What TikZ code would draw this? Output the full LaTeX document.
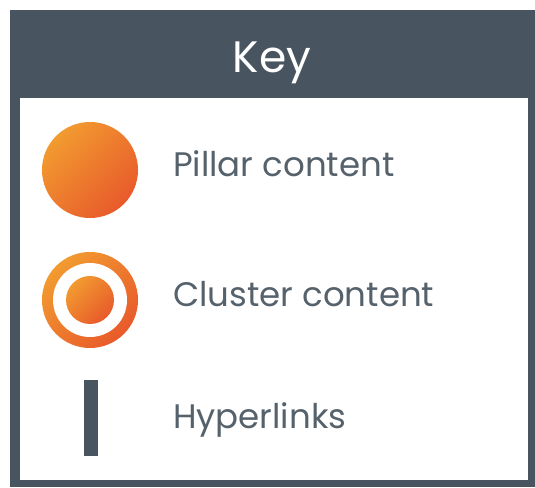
\documentclass[tikz,border=0pt]{standalone}
\usepackage{fontspec}
\setmainfont{Poppins}
\usetikzlibrary{positioning}
\definecolor{keygrey}{HTML}{48545F}
\definecolor{textgrey}{HTML}{55616B}
\definecolor{orangelight}{HTML}{F29B30}
\definecolor{orangedark}{HTML}{E85A2B}

\begin{document}
\begin{tikzpicture}[x=1pt,y=1pt]
    \tikzstyle{orangedot}=[circle, inner sep=0pt, top color=orangelight, bottom color=orangedark, shading angle=45]
    \tikzstyle{keylabel}=[anchor=base west, inner sep=0pt, text=textgrey, font=\fontsize{34}{40}\selectfont]
    \useasboundingbox (0,0) rectangle (535,487);
    % frame and header
    \fill[keygrey] (10,0) rectangle (535,477);
    \fill[white] (20,7) rectangle (528,389);
    \node[anchor=base, inner sep=0pt, text=white, font=\fontsize{44}{50}\selectfont] (key) at (272,414) {Key};
    % pillar
    \node[orangedot, minimum size=96pt] (pillar) at (90,317) {};
    \node[keylabel] (pillartext) at (173,310) {Pillar content};
    % cluster
    \node[orangedot, minimum size=96pt] (cluster) at (90,187) {};
    \node[circle, fill=white, inner sep=0pt, minimum size=74pt] (clusterring) at (cluster) {};
    \node[orangedot, minimum size=48pt] (clustercore) at (cluster) {};
    \node[keylabel] (clustertext) at (173,180) {Cluster content};
    % hyperlinks
    \node[fill=keygrey, inner sep=0pt, minimum width=14pt, minimum height=75pt] (link) at (91,69) {};
    \node[keylabel] (linktext) at (173,58) {Hyperlinks};
\end{tikzpicture}
\end{document}
